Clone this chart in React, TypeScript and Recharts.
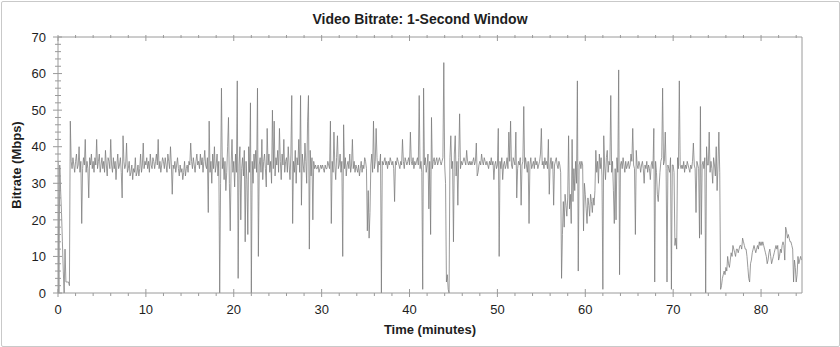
import React from 'react';
import { LineChart, Line, XAxis, YAxis, Label } from 'recharts';

// one reading every 6 seconds (10 per minute), in Mbps
const SAMPLES_PER_MIN = 10;

const rate00to09 = [
  36, 0, 35, 28, 22, 14, 6, 0, 12, 3,
  3, 3, 3, 2, 47, 36, 34, 37, 35, 33,
  36, 38, 34, 35, 40, 33, 36, 19, 34, 37,
  35, 42, 33, 36, 34, 26, 37, 35, 38, 34,
  36, 33, 37, 35, 42, 34, 36, 38, 33, 35,
  37, 34, 36, 33, 39, 35, 32, 37, 36, 34,
  42, 35, 33, 37, 34, 36, 31, 35, 38, 34,
  35, 37, 33, 26, 43, 36, 34, 35, 41, 33,
  34, 36, 32, 33, 35, 31, 34, 33, 37, 32,
  33, 35, 32, 34, 38, 33, 35, 41, 34, 36,
];

const rate10to19 = [
  35, 37, 34, 36, 33, 38, 35, 34, 37, 36,
  34, 36, 38, 35, 42, 34, 36, 33, 35, 37,
  36, 34, 37, 35, 33, 38, 36, 34, 40, 35,
  27, 35, 34, 36, 33, 35, 37, 34, 32, 35,
  33, 34, 31, 33, 36, 32, 34, 35, 33, 36,
  35, 41, 36, 34, 37, 35, 33, 36, 38, 35,
  36, 34, 38, 35, 37, 33, 36, 39, 35, 34,
  37, 22, 47, 33, 36, 30, 38, 34, 40, 33,
  35, 38, 32, 36, 0, 30, 56, 34, 37, 31,
  36, 28, 33, 40, 48, 30, 17, 35, 42, 33,
];

const rate20to29 = [
  36, 29, 38, 33, 58, 4, 35, 40, 20, 34,
  37, 32, 39, 14, 36, 31, 16, 40, 33, 52,
  0, 36, 30, 38, 34, 39, 33, 56, 10, 35,
  37, 33, 42, 31, 36, 38, 34, 29, 45, 35,
  38, 33, 36, 30, 50, 34, 47, 32, 37, 35,
  39, 33, 45, 36, 31, 38, 35, 42, 33, 36,
  37, 33, 40, 35, 31, 38, 54, 19, 36, 33,
  39, 30, 37, 35, 42, 33, 54, 24, 38, 35,
  33, 41, 36, 30, 47, 54, 12, 39, 32, 37,
  20, 36, 34, 35, 34, 34, 35, 33, 34, 35,
];

const rate30to39 = [
  34, 35, 34, 33, 35, 34, 34, 36, 35, 34,
  47, 19, 36, 33, 44, 35, 31, 37, 43, 34,
  35, 38, 33, 36, 10, 46, 34, 37, 32, 35,
  36, 34, 38, 33, 35, 42, 34, 36, 33, 35,
  34, 33, 35, 32, 34, 36, 33, 35, 34, 37,
  36, 34, 17, 28, 15, 22, 35, 38, 33, 47,
  34, 36, 45, 37, 33, 36, 35, 38, 0, 36,
  35, 36, 37, 35, 36, 34, 36, 35, 37, 36,
  35, 36, 34, 25, 36, 35, 37, 36, 35, 34,
  36, 35, 42, 36, 34, 37, 36, 35, 36, 37,
];

const rate40to49 = [
  35, 44, 36, 35, 37, 34, 36, 35, 36, 37,
  35, 54, 34, 36, 33, 1, 56, 35, 37, 33,
  35, 38, 23, 36, 16, 48, 34, 36, 37, 35,
  36, 37, 35, 36, 37, 36, 35, 36, 37, 63,
  35, 30, 3, 5, 1, 0, 37, 43, 34, 36,
  14, 38, 43, 32, 36, 24, 37, 49, 34, 36,
  35, 36, 37, 36, 35, 39, 36, 35, 36, 35,
  36, 35, 36, 37, 35, 36, 41, 32, 33, 35,
  36, 35, 38, 36, 35, 37, 36, 35, 36, 35,
  34, 36, 35, 37, 35, 36, 31, 35, 36, 34,
];

const rate50to59 = [
  35, 45, 10, 36, 34, 37, 31, 35, 36, 34,
  35, 37, 34, 44, 36, 47, 35, 34, 37, 36,
  35, 44, 26, 34, 36, 35, 37, 24, 35, 36,
  51, 34, 37, 35, 33, 36, 19, 35, 37, 34,
  35, 36, 34, 37, 35, 36, 34, 35, 36, 38,
  45, 35, 36, 34, 37, 35, 36, 34, 42, 27,
  35, 37, 34, 36, 24, 35, 36, 37, 35, 34,
  36, 35, 33, 4, 16, 25, 18, 27, 24, 21,
  26, 43, 23, 27, 19, 42, 25, 34, 28, 36,
  30, 58, 6, 35, 36, 34, 36, 35, 17, 30,
];

const rate60to69 = [
  27, 23, 19, 26, 24, 21, 27, 25, 22, 26,
  24, 28, 39, 33, 36, 30, 38, 34, 37, 32,
  1, 43, 35, 31, 37, 39, 33, 36, 35, 54,
  33, 36, 28, 19, 34, 20, 37, 33, 61, 5,
  35, 36, 34, 37, 35, 33, 36, 34, 35, 36,
  34, 35, 38, 36, 45, 35, 34, 16, 39, 35,
  34, 36, 35, 33, 35, 36, 34, 30, 35, 34,
  36, 33, 35, 34, 31, 35, 36, 34, 45, 3,
  36, 33, 27, 25, 29, 33, 36, 37, 56, 35,
  36, 44, 34, 3, 35, 34, 33, 37, 1, 35,
];

const rate70to79 = [
  35, 33, 13, 15, 12, 37, 34, 58, 35, 34,
  35, 34, 36, 33, 35, 34, 36, 35, 34, 33,
  35, 34, 36, 41, 35, 34, 22, 36, 35, 34,
  15, 51, 16, 35, 36, 34, 37, 0, 40, 35,
  35, 44, 33, 36, 34, 30, 37, 35, 32, 40,
  28, 35, 44, 33, 1, 2, 4, 5, 6, 5,
  7, 6, 10, 8, 7, 9, 11, 10, 13, 12,
  11, 10, 12, 12, 11, 12, 13, 13, 12, 15,
  14, 13, 12, 12, 10, 7, 4, 3, 8, 9,
  11, 12, 13, 12, 11, 12, 13, 12, 14, 13,
];

const rate80to84 = [
  14, 13, 14, 13, 12, 11, 10, 8, 9, 11,
  12, 10, 8, 9, 10, 11, 12, 13, 12, 13,
  9, 10, 12, 11, 13, 14, 13, 9, 18, 17,
  15, 16, 15, 14, 14, 13, 12, 3, 9, 7,
  3, 5, 10, 8, 9, 10, 9,
];

const bitrate = [
  ...rate00to09, ...rate10to19, ...rate20to29, ...rate30to39, ...rate40to49,
  ...rate50to59, ...rate60to69, ...rate70to79, ...rate80to84,
];

const xTicks = [0, 2, 4, 6, 8, 10, 12, 14, 16, 18, 20, 22, 24, 26, 28, 30, 32, 34, 36, 38, 40,
  42, 44, 46, 48, 50, 52, 54, 56, 58, 60, 62, 64, 66, 68, 70, 72, 74, 76, 78, 80, 82, 84];
const yTicks = [0, 2, 4, 6, 8, 10, 12, 14, 16, 18, 20, 22, 24, 26, 28, 30, 32, 34, 36, 38, 40,
  42, 44, 46, 48, 50, 52, 54, 56, 58, 60, 62, 64, 66, 68, 70];

const data = bitrate.map((v, i) => ({ t: i / SAMPLES_PER_MIN, mbps: v }));

const FONT = 'Arial, "Liberation Sans", sans-serif';
const AXIS = '#9a9a9a';
const TEXT = '#1e1e1e';

const BottomTick = (props: any) => {
  const { x, y, payload } = props;
  const major = payload.value % 10 === 0;
  return (
    <g>
      <line x1={x} x2={x} y1={major ? y - 4 : y} y2={major ? y + 4 : y + 3} stroke={AXIS} />
      {major && (
        <text x={x} y={y + 21} textAnchor="middle" fontSize={13} fontFamily={FONT} fill={TEXT}>
          {payload.value}
        </text>
      )}
    </g>
  );
};

const TopTick = (props: any) => {
  const { x, y, payload } = props;
  const major = payload.value % 10 === 0;
  return <line x1={x} x2={x} y1={y - 2} y2={major ? y + 4 : y + 1} stroke={AXIS} />;
};

const LeftTick = (props: any) => {
  const { x, y, payload } = props;
  const major = payload.value % 10 === 0;
  return (
    <g>
      <line x1={major ? x - 5 : x - 3} x2={major ? x + 4 : x + 3} y1={y} y2={y} stroke={AXIS} />
      {major && (
        <text x={x - 12} y={y} dy="0.36em" textAnchor="end" fontSize={13} fontFamily={FONT} fill={TEXT}>
          {payload.value}
        </text>
      )}
    </g>
  );
};

const RightTick = (props: any) => {
  const { x, y, payload } = props;
  const major = payload.value % 10 === 0;
  return (
    <g>
      <line x1={major ? x - 4 : x - 3} x2={major ? x + 5 : x + 3} y1={y} y2={y} stroke={AXIS} />
      {major && (
        <text x={x + 11} y={y} dy="0.36em" textAnchor="start" fontSize={13} fontFamily={FONT} fill={TEXT}>
          {payload.value}
        </text>
      )}
    </g>
  );
};

export default function App() {
  return (
    <div style={{ position: 'absolute', left: 0, top: 0, width: 840, height: 347, background: '#fff' }}>
      <div
        style={{
          position: 'absolute', left: 0, top: 11, width: 840, textAlign: 'center',
          fontFamily: FONT, fontWeight: 'bold', fontSize: 14, color: TEXT,
        }}
      >
        Video Bitrate: 1-Second Window
      </div>
      <LineChart width={840} height={347} data={data} margin={{ top: 27, right: 8, bottom: 14, left: 18 }}>
        <XAxis
          xAxisId="bottom" dataKey="t" type="number" domain={[0, 84.66]} ticks={xTicks}
          allowDataOverflow height={40} tickSize={0} tickMargin={0} tickLine={false}
          axisLine={{ stroke: AXIS }} tick={<BottomTick />} interval={0}
        >
          <Label value="Time (minutes)" position="insideBottom" offset={-1} fontFamily={FONT} fontWeight="bold" fontSize={13} fill={TEXT} />
        </XAxis>
        <XAxis
          xAxisId="top" orientation="top" dataKey="t" type="number" domain={[0, 84.66]} ticks={xTicks}
          allowDataOverflow height={10} tickSize={0} tickMargin={0} tickLine={false}
          axisLine={{ stroke: AXIS }} tick={<TopTick />} interval={0}
        />
        <YAxis
          yAxisId="left" domain={[0, 70]} ticks={yTicks} width={40} tickSize={0} tickMargin={0}
          tickLine={false} axisLine={{ stroke: AXIS }} tick={<LeftTick />} interval={0}
        >
          <Label value="Bitrate (Mbps)" angle={-90} position="insideLeft" offset={-2} fontFamily={FONT} fontWeight="bold" fontSize={13} fill={TEXT} style={{ textAnchor: 'middle' }} />
        </YAxis>
        <YAxis
          yAxisId="right" orientation="right" domain={[0, 70]} ticks={yTicks} width={30} tickSize={0} tickMargin={0}
          tickLine={false} axisLine={{ stroke: AXIS }} tick={<RightTick />} interval={0}
        />
        <Line
          xAxisId="bottom" yAxisId="left" type="linear" dataKey="mbps" dot={false}
          stroke="#7a7a7a" strokeWidth={0.75} isAnimationActive={false}
        />
      </LineChart>
      <div
        style={{
          position: 'absolute', left: 1, top: 1, width: 837, height: 344,
          border: '1px solid #c9c9c9', borderRadius: 2, pointerEvents: 'none',
        }}
      />
    </div>
  );
}
